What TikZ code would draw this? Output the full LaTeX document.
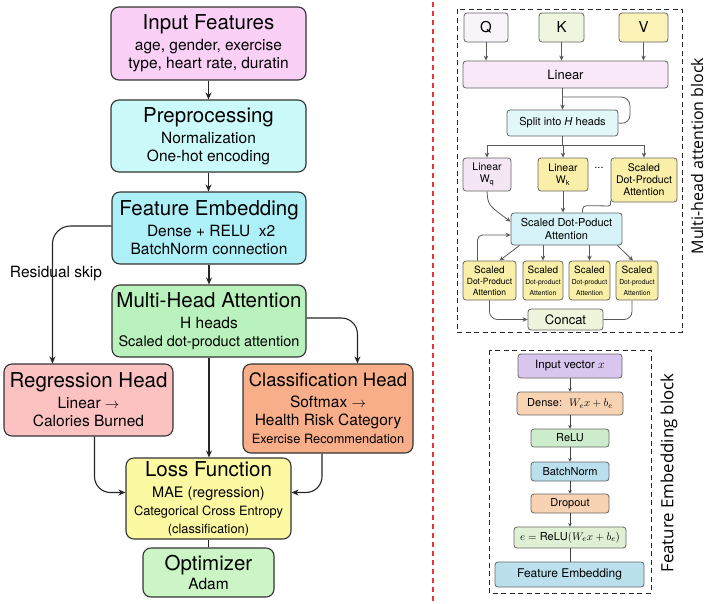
\documentclass[tikz,border=0pt]{standalone}
\usepackage{fontspec}
\setmainfont{TeX Gyre Heros}
\newfontfamily\labfont{Open Sans}
\usetikzlibrary{arrows.meta,calc}
\definecolor{cInp}{HTML}{FAD0F6}
\definecolor{cPre}{HTML}{CBFAFA}
\definecolor{cFE}{HTML}{ADF0F8}
\definecolor{cMHA}{HTML}{B9F2BC}
\definecolor{cReg}{HTML}{FCC2C2}
\definecolor{cCls}{HTML}{F8AE88}
\definecolor{cLoss}{HTML}{FDF8A2}
\definecolor{cOpt}{HTML}{CBF5C4}
\definecolor{cQ}{HTML}{F8F4F9}
\definecolor{cK}{HTML}{EEF6DF}
\definecolor{cV}{HTML}{FBF3B8}
\definecolor{cLin}{HTML}{F8E8F8}
\definecolor{cSplit}{HTML}{E2F7F8}
\definecolor{cWq}{HTML}{F4E6F4}
\definecolor{cYel}{HTML}{FAEFA8}
\definecolor{cSdpa}{HTML}{D5F3F8}
\definecolor{cCat}{HTML}{EEF5DC}
\definecolor{cIv}{HTML}{D9C6EE}
\definecolor{cPeach}{HTML}{F8D3B3}
\definecolor{cRelu}{HTML}{CDECCB}
\definecolor{cBn}{HTML}{BAE0EE}
\definecolor{cEq}{HTML}{DFF0D4}
\definecolor{cRed}{HTML}{E83535}
\newcommand\ttlA{\fontsize{20.5}{22}\selectfont}
\newcommand\ttlB{\fontsize{18.5}{22}\selectfont}
\newcommand\bdyA{\fontsize{15.5}{18}\selectfont}
\newcommand\bdyB{\fontsize{14.5}{17}\selectfont}
\newcommand\bdyC{\fontsize{12.8}{15}\selectfont}
\begin{document}
\begin{tikzpicture}[x=1pt,y=-1pt,
  lbox/.style={draw=black!80, line width=1.1pt, rounded corners=8pt, align=center, inner sep=0pt, font=\bdyA},
  rbox/.style={draw=black!60, line width=0.8pt, rounded corners=3pt, align=center, inner sep=0pt},
  arr/.style={-{Stealth[length=7pt,width=6pt]}, line width=1.1pt, draw=black!85},
  sarr/.style={-{Stealth[length=5pt,width=4.5pt]}, line width=0.8pt, draw=black!65},
  tarr/.style={-{Stealth[length=3.5pt,width=3.5pt]}, line width=0.7pt, draw=black!75},
  blk/.style={draw=black!85, line width=1pt, dash pattern=on 5pt off 3.5pt},
]
\useasboundingbox[fill=white] (0,0) rectangle (708,603);

% ---------------- left column ----------------
\node[lbox, fill=cInp, minimum width=195, minimum height=73] (inp) at (208.5,43.5)
  {{\ttlA Input Features}\\[3pt] age, gender, exercise\\ type, heart rate, duratin};
\node[lbox, fill=cPre, minimum width=195, minimum height=72] (pre) at (208.5,136)
  {{\ttlA Preprocessing}\\[3pt] Normalization\\ One-hot encoding};
\node[lbox, fill=cFE, minimum width=194, minimum height=72] (fe) at (209,228)
  {{\ttlA Feature Embedding}\\[3pt] \ Dense + RELU \ x2\\ BatchNorm connection};
\node[lbox, fill=cMHA, minimum width=194, minimum height=72] (mha) at (209,321)
  {{\ttlA Multi-Head Attention}\\[3pt] H heads\\ {\bdyB Scaled dot-product attention}};
\node[lbox, fill=cReg, minimum width=169, minimum height=72] (reg) at (88.5,400)
  {{\ttlA Regression Head}\\[3pt] Linear $\rightarrow$\\ Calories Burned};
\node[lbox, fill=cCls, minimum width=170, minimum height=89] (cls) at (328,408.5)
  {{\ttlB Classification Head}\\[3pt] Softmax $\rightarrow$\\ Health Risk Category\\ {\bdyC Exercise Recommendation}};
\node[lbox, fill=cLoss, minimum width=165, minimum height=81] (loss) at (208.5,498.5)
  {{\ttlA Loss Function}\\[3pt] {\bdyB MAE (regression)}\\ {\bdyC Categorical Cross Entropy}\\ {\bdyC (classification)}};
\node[lbox, fill=cOpt, minimum width=131, minimum height=49] (opt) at (208.5,572.5)
  {{\ttlA Optimizer}\\[1pt] Adam};

\node[font=\bdyA, inner sep=0pt] (res) at (56,274) {Residual skip};

\draw[arr] (inp.south) -- (pre.north);
\draw[arr] (pre.south) -- (fe.north -| pre.south);
\draw[arr] (fe.south) -- (mha.north);
\draw[arr] (mha.south) -- (mha.south |- loss.north);
\draw[line width=1.1pt, draw=black!85] (loss.south) -- (opt.north);
\coordinate (resc) at ($(reg.north west)+(49,0)$);
\draw[arr, rounded corners=18pt] ($(fe.west)+(0,-2)$) -| (resc);
\coordinate (clsc) at ($(cls.north west)+(115,0)$);
\draw[arr, rounded corners=16pt] ($(mha.east)+(0,-3)$) -| (clsc);
\draw[arr, rounded corners=16pt] ($(reg.south)+(6,0)$) |- ($(loss.west)+(0,-6)$);
\draw[arr, rounded corners=16pt] ($(cls.south)+(-6,0)$) |- ($(loss.east)+(0,-6)$);

% red separator
\draw[cRed, line width=1.3pt, dash pattern=on 5pt off 4pt] (433,2) -- (433,601);

% ---------------- multi-head attention block ----------------
\draw[blk] (457,9) rectangle (682,332);
\node[font=\labfont\fontsize{16}{18}\selectfont, rotate=90, inner sep=0pt] (mhalab) at (697,156) {Multi-head attention block};

\node[rbox, fill=cQ, minimum width=44, minimum height=29, font=\fontsize{15}{17}\selectfont] (q) at (486,27.5) {Q};
\node[rbox, fill=cK, minimum width=45, minimum height=29, font=\fontsize{15}{17}\selectfont] (k) at (561.5,27.5) {K};
\node[rbox, fill=cV, minimum width=49, minimum height=29, font=\fontsize{15}{17}\selectfont] (v) at (643.5,27.5) {V};
\node[rbox, fill=cLin, minimum width=205, minimum height=27, font=\fontsize{13}{15}\selectfont] (lin) at (565.5,74.5) {Linear};
\node[rbox, fill=cSplit, minimum width=111, minimum height=26, font=\fontsize{11}{13}\selectfont] (split) at (562.5,123) {Split into \textit{H} heads};
\node[rbox, fill=cWq, minimum width=48, minimum height=33, font=\fontsize{10.5}{12.5}\selectfont] (wq) at (487,174.5) {Linear\\ W\textsubscript{q}};
\node[rbox, fill=cYel, minimum width=50, minimum height=33, font=\fontsize{10.5}{12.5}\selectfont] (wk) at (563,174.5) {Linear\\ W\textsubscript{k}};
\node[inner sep=0pt, font=\fontsize{11}{13}\selectfont] (dots) at (599,168) {...};
\node[rbox, fill=cYel, minimum width=66, minimum height=44, font=\fontsize{10.5}{12}\selectfont] (sdtr) at (644,180) {Scaled\\ Dot-Product\\ Attention};
\node[rbox, fill=cSdpa, minimum width=111, minimum height=32, font=\fontsize{11}{13}\selectfont] (sdpa) at (566.5,229) {Scaled Dot-Poduct\\ Attention};
\node[rbox, fill=cYel, minimum width=53, minimum height=39, font=\fontsize{10}{11}\selectfont] (b1) at (489.5,280.5) {Scaled\\ {\fontsize{8.5}{10}\selectfont Dot-Product}\\ {\fontsize{8.5}{10}\selectfont Attention}};
\node[rbox, fill=cYel, minimum width=40, minimum height=39, font=\fontsize{10}{11}\selectfont] (b2) at (543,280.5) {Scaled\\ {\fontsize{6.8}{10}\selectfont Dot-product}\\ {\fontsize{6.8}{10}\selectfont Attention}};
\node[rbox, fill=cYel, minimum width=41, minimum height=39, font=\fontsize{10}{11}\selectfont] (b3) at (589.5,280.5) {Scaled\\ {\fontsize{6.8}{10}\selectfont Dot-product}\\ {\fontsize{6.8}{10}\selectfont Attention}};
\node[rbox, fill=cYel, minimum width=42, minimum height=39, font=\fontsize{10}{11}\selectfont] (b4) at (637,280.5) {Scaled\\ {\fontsize{6.8}{10}\selectfont Dot-product}\\ {\fontsize{6.8}{10}\selectfont Attention}};
\node[rbox, fill=cCat, minimum width=75, minimum height=21, font=\fontsize{13}{15}\selectfont] (cat) at (565.5,319.5) {Concat};

\draw[sarr] (q.south) -- (q.south |- lin.north);
\draw[sarr] (k.south) -- (k.south |- lin.north);
\draw[sarr] (v.south) -- (v.south |- lin.north);
\coordinate (lsp) at (lin.south |- 0,97);
\draw[sarr] (lin.south -| split.north) -- (split.north);
\draw[line width=0.8pt, draw=black!65, rounded corners=9pt] (lsp -| split.north) -- (630,97) -- (630,124) -- (split.east);
\coordinate (spb) at (split.south |- 0,145);
\draw[line width=0.8pt, draw=black!65] (split.south) -- (spb);
\draw[line width=0.8pt, draw=black!65] (spb -| wq.north) -- (spb -| sdtr.north);
\draw[sarr] (spb -| wq.north) -- (wq.north);
\draw[sarr] (spb -| wk.north) -- (wk.north);
\draw[sarr] (spb -| sdtr.north) -- (sdtr.north);
\draw[sarr] (wq.south) .. controls (488,205) .. ($(sdpa.north west)+(0,9)$);
\draw[sarr] (wk.south) -- (wk.south |- sdpa.north);
\draw[line width=0.8pt, draw=black!65, rounded corners=4pt] ($(sdpa.north)+(16,0)$) -- ++(0,-7) -- (612,206) -- (sdtr.south west);
\draw[sarr, rounded corners=5pt] ($(b1.north)+(-12,0)$) |- ($(sdpa.west)+(0,6)$);
\draw[sarr] ($(sdpa.south west)+(9,0)$) -- ($(b1.north)+(10,0)$);
\draw[sarr] (b2.north |- sdpa.south) -- (b2.north);
\draw[sarr] (b3.north |- sdpa.south) -- (b3.north);
\draw[sarr] ($(sdpa.south east)+(-5,0)$) -- ($(b4.north)+(-4,0)$);
\draw[sarr, rounded corners=8pt] (b1.south) |- (cat.west);
\draw[line width=0.8pt, draw=black!65, rounded corners=8pt] ($(b4.south)+(-5,0)$) |- (cat.east);

% ---------------- feature embedding block ----------------
\draw[blk] (489,350) rectangle (651,593);
\node[font=\labfont\fontsize{16.8}{18}\selectfont, rotate=90, inner sep=0pt] (felab) at (669,473) {Feature Embedding block};

\node[rbox, fill=cIv, minimum width=104, minimum height=24, font=\fontsize{11.5}{13}\selectfont] (iv) at (570,366) {Input vector $x$};
\node[rbox, fill=cPeach, minimum width=106, minimum height=23, font=\fontsize{11}{13}\selectfont] (dn) at (570,403.5) {Dense: \ $W_e x + b_e$};
\node[rbox, fill=cRelu, minimum width=78, minimum height=18, font=\fontsize{11}{13}\selectfont] (relu) at (570,438) {ReLU};
\node[rbox, fill=cBn, minimum width=78, minimum height=19, font=\fontsize{11}{13}\selectfont] (bn) at (570,471.5) {BatchNorm};
\node[rbox, fill=cPeach, minimum width=78, minimum height=19, font=\fontsize{11}{13}\selectfont] (dr) at (570,503.5) {Dropout};
\node[rbox, fill=cEq, minimum width=112, minimum height=21, font=\fontsize{11}{13}\selectfont] (eq) at (570,537.5) {$e = \mathrm{ReLU}(W_e x + b_e)$};
\node[rbox, fill=cBn, minimum width=149, minimum height=25, font=\fontsize{12}{14}\selectfont] (fe2) at (569.5,574.5) {Feature Embedding};

\draw[tarr] (iv.south) -- (dn.north);
\draw[tarr] (dn.south) -- (relu.north);
\draw[tarr] (relu.south) -- (bn.north);
\draw[tarr] (bn.south) -- (dr.north);
\draw[tarr] (dr.south) -- (eq.north);
\draw[line width=0.7pt, draw=black!75] (eq.south) -- (eq.south |- fe2.north);
\end{tikzpicture}
\end{document}
